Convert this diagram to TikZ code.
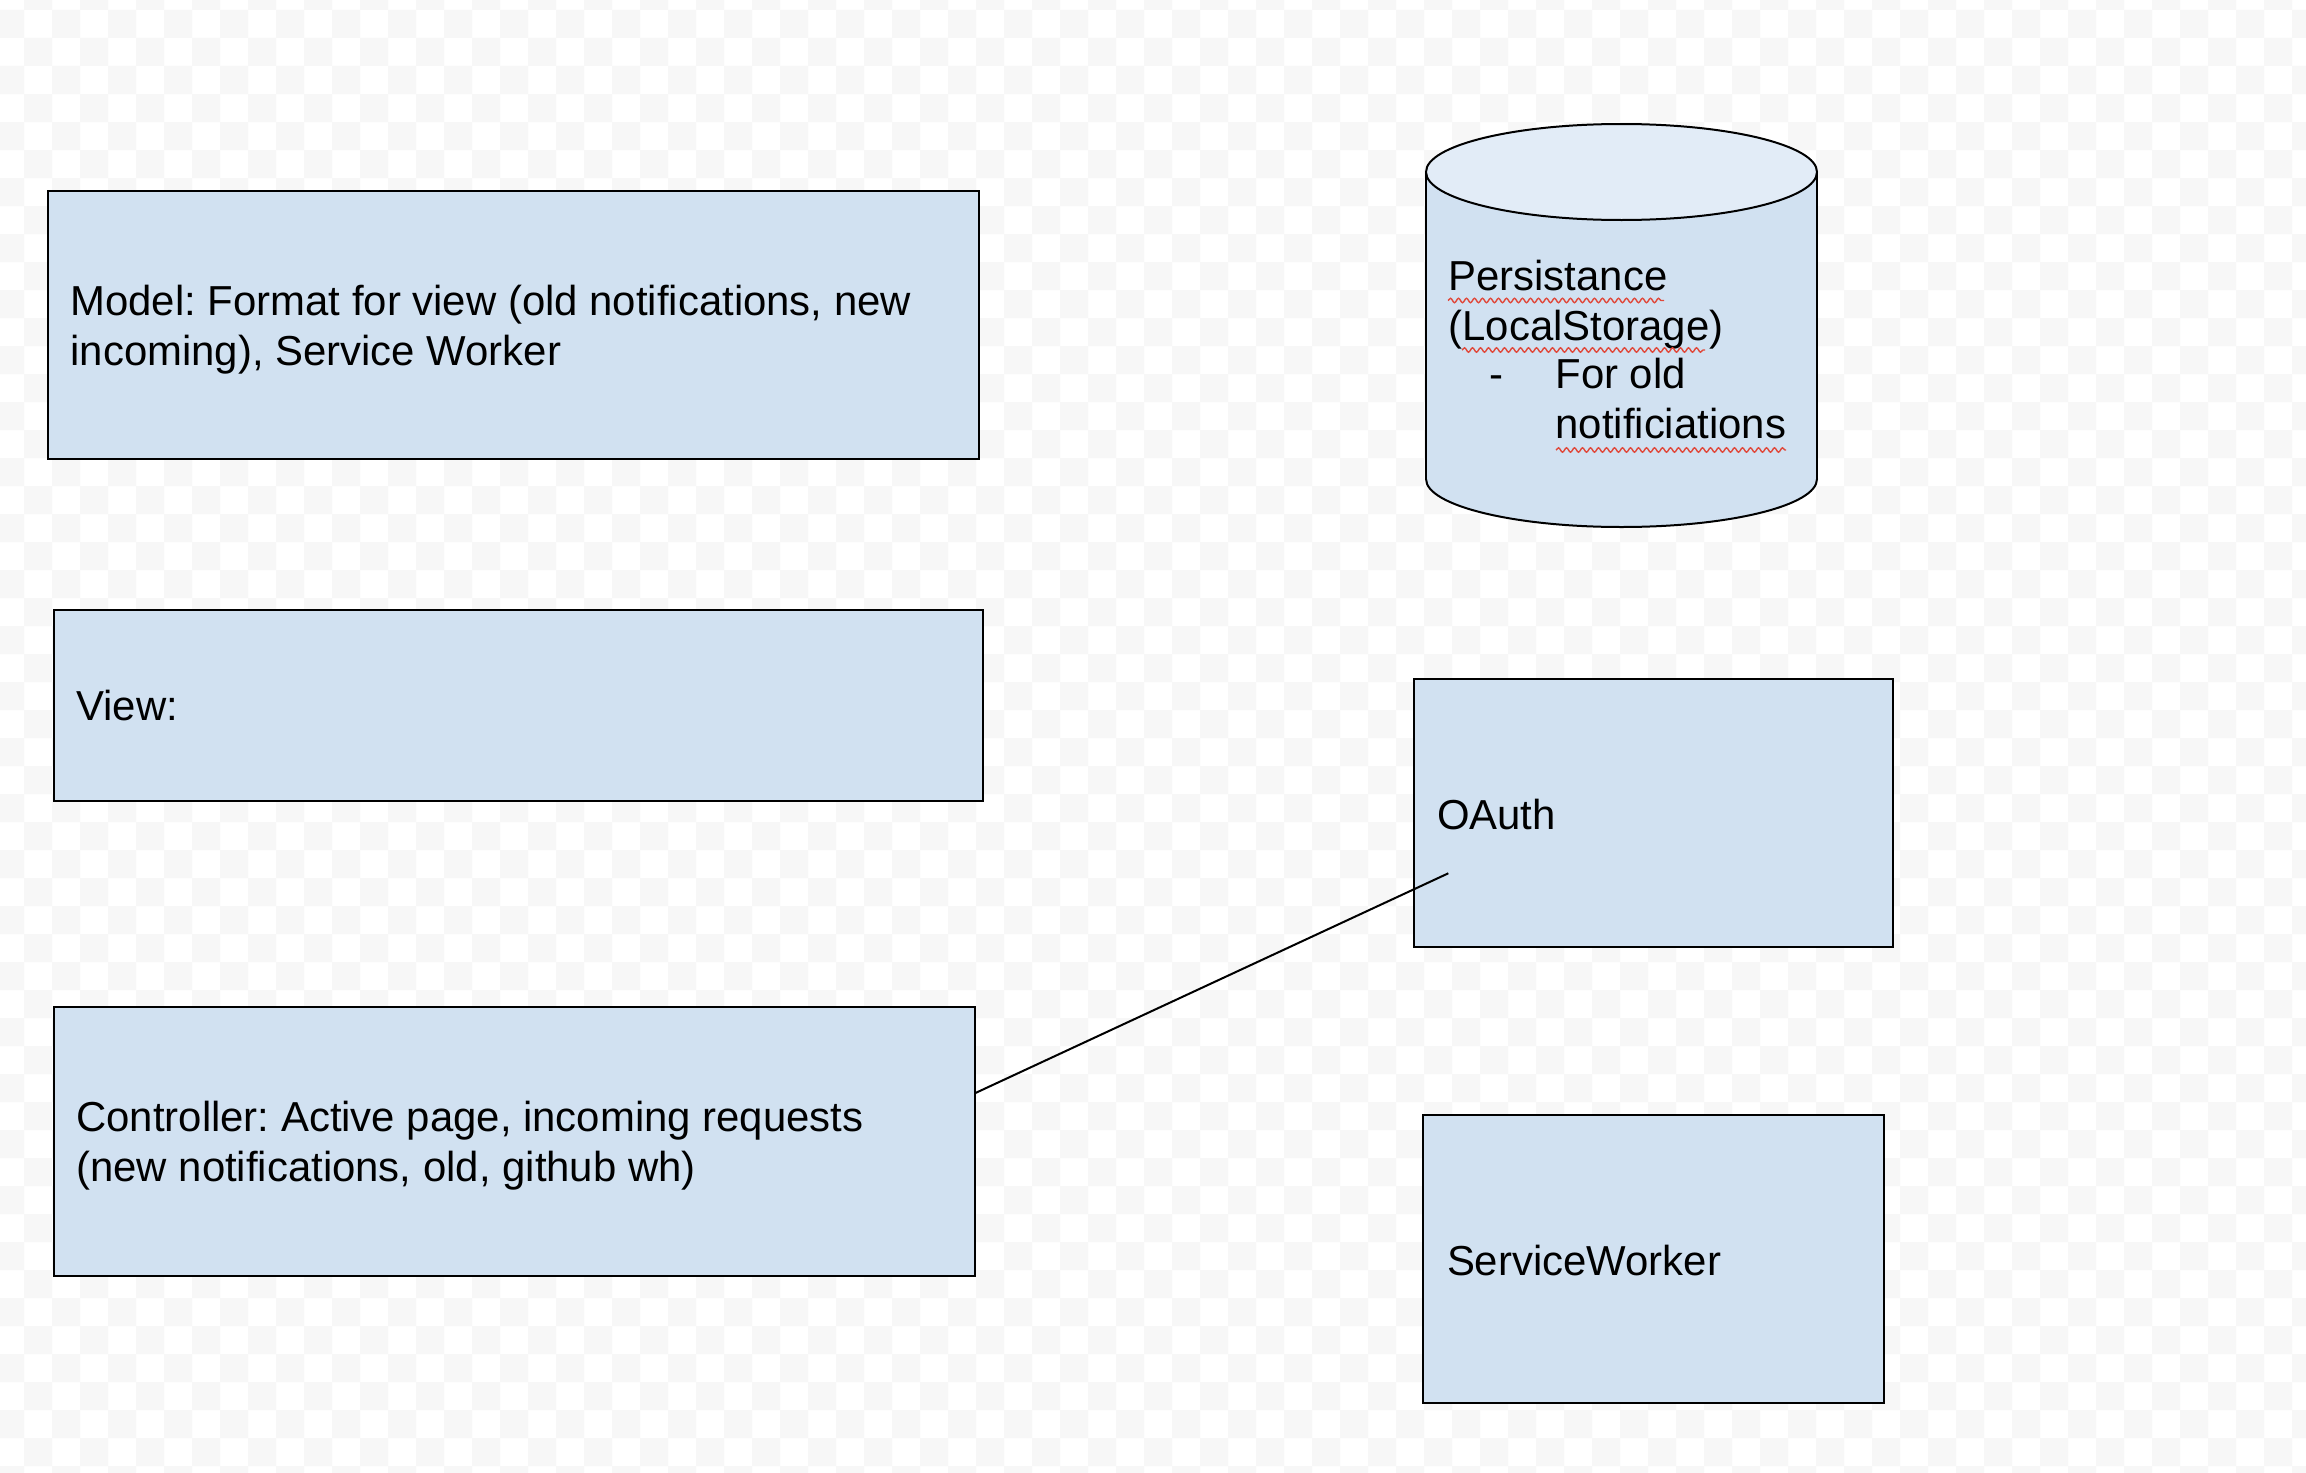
\documentclass[tikz,border=0pt]{standalone}
\usepackage{fontspec}
\setmainfont{Liberation Sans}
\frenchspacing
\usetikzlibrary{decorations.pathmorphing}
\definecolor{chk}{HTML}{F7F7F7}
\definecolor{boxfill}{HTML}{D1E1F1}
\definecolor{cyltop}{HTML}{E2ECF7}
\definecolor{spell}{HTML}{E0483A}
\tikzset{
  box/.style={draw=black, line width=2pt, fill=boxfill, rectangle, inner sep=0pt, outer sep=0pt},
  txt/.style={anchor=base west, inner sep=0pt, outer sep=0pt, text=black,
    font=\fontsize{41.9pt}{50pt}\selectfont},
  conn/.style={draw=black, line width=2pt},
  wavy/.style={draw=spell, line width=1.4pt, decorate,
    decoration={snake, segment length=8pt, amplitude=2.2pt}}
}
\newcommand{\lines}[1]{\begin{tabular}[t]{@{}l@{}}#1\end{tabular}}
\begin{document}
\begin{tikzpicture}[x=1pt, y=-1pt]
\useasboundingbox (0,0) rectangle (2306,1472);
\fill[white] (0,0) rectangle (2306,1472);
% checkerboard background
\begin{scope}
\clip (0,0) rectangle (2306,1472);
\foreach \r in {-1,...,52} {
  \pgfmathsetmacro{\ys}{10+28*\r}
  \pgfmathtruncatemacro{\odd}{mod(\r+2,2)}
  \ifnum\odd=0
    \def\xs{-4}\def\xn{52}
  \else
    \def\xs{24}\def\xn{80}
  \fi
  \fill[chk] \foreach \x in {\xs,\xn,...,2320} {(\x,\ys) rectangle ++(28,28)};
}
\end{scope}

% boxes
\node[box, minimum width=930.6pt, minimum height=268pt] (model) at (513.7,325) {};
\node[box, minimum width=929.5pt, minimum height=191pt] (view) at (518.25,705.5) {};
\node[box, minimum width=921.5pt, minimum height=269pt] (ctrl) at (514.25,1141.5) {};
\node[box, minimum width=479pt, minimum height=268pt] (oauth) at (1653.5,813) {};
\node[box, minimum width=461pt, minimum height=288pt] (sw) at (1653.5,1259) {};

% cylinder
\fill[boxfill] (1621.5,479) ellipse [x radius=195.5, y radius=48];
\draw[line width=2pt] (1621.5,479) ellipse [x radius=195.5, y radius=48];
\fill[boxfill] (1426,172) rectangle (1817,479);
\draw[line width=2pt] (1426,172) -- (1426,479) (1817,172) -- (1817,479);
\draw[line width=2pt, fill=cyltop] (1621.5,172) ellipse [x radius=195.5, y radius=48];
\coordinate (cyl) at (1621.5,325);

% texts
\node[txt] (tmodel) at (70.5,315.7) {\lines{Model: Format for view (old notifications, new\\incoming), Service Worker}};
\node[txt] (tview) at (76.4,720.7) {View:};
\node[txt] (tctrl) at (76.3,1131.7) {\lines{Controller: Active page, incoming requests\\(new notifications, old, github wh)}};
\node[txt] (toauth) at (1437,829.3) {OAuth};
\node[txt] (tsw) at (1447,1275) {ServiceWorker};
\node[txt] (tpers) at (1448.5,290) {\lines{Persistance\\(LocalStorage)}};
\node[txt] (tdash) at (1489,388.3) {-};
\node[txt] (tfor) at (1555.5,388.3) {\lines{For old\\notificiations}};

% spell-check underlines
\draw[wavy] (1448,300.5) -- (1664,300.5);
\draw[wavy] (1462,350) -- (1705,350);
\draw[wavy] (1556,450) -- (1786,450);

% connector
\coordinate (oend) at (1448.3,873.3);
\draw[conn] ([yshift=48.3pt]ctrl.east) -- (oend);
\end{tikzpicture}
\end{document}
